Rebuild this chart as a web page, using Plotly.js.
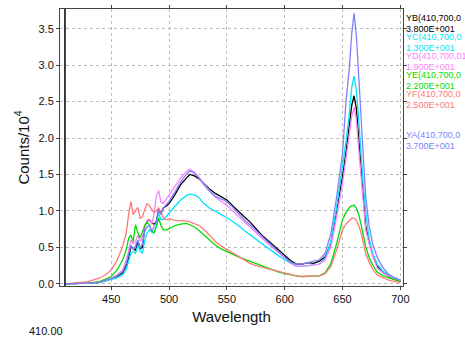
<!DOCTYPE html>
<html><head><meta charset="utf-8">
<script src="https://cdn.plot.ly/plotly-3.0.1.min.js"></script>
<style>html,body{margin:0;padding:0;background:#fff}#c{width:465px;height:340px}</style>
</head><body><div id="c"></div>
<script>
const wavelength = [410,420,430,440,445,450,455,460,463,465,467,469,471,473,475,477,479,481,483,485,487,489,491,493,495,498,500,505,510,515,518,522,526,530,535,540,545,550,555,560,565,570,575,580,585,590,595,600,605,610,615,620,625,630,635,640,645,650,653,656,658,660,662,664,666,668,670,673,676,680,685,690,695,700];

const YB = [0,0,0.01,0.02,0.04,0.07,0.1,0.15,0.25,0.35,0.51,0.48,0.46,0.58,0.48,0.5,0.79,0.86,0.88,0.83,0.82,0.85,1.02,0.96,1.04,1.07,1.1,1.22,1.36,1.45,1.5,1.48,1.44,1.38,1.3,1.24,1.19,1.15,1.07,0.99,0.92,0.85,0.76,0.67,0.6,0.53,0.46,0.4,0.32,0.27,0.27,0.29,0.28,0.31,0.37,0.56,1.01,1.47,1.8,2.15,2.45,2.58,2.4,2.0,1.55,1.15,0.79,0.58,0.4,0.24,0.16,0.1,0.06,0.03];
const YC = [0,0,0.01,0.02,0.04,0.06,0.08,0.12,0.2,0.31,0.42,0.44,0.42,0.53,0.45,0.42,0.6,0.7,0.74,0.71,0.7,0.78,0.97,0.88,0.88,0.93,0.97,1.06,1.15,1.21,1.23,1.22,1.18,1.1,1.04,0.99,0.95,0.91,0.86,0.8,0.73,0.67,0.61,0.56,0.5,0.44,0.38,0.33,0.28,0.24,0.24,0.25,0.25,0.27,0.35,0.58,1.06,1.61,1.95,2.35,2.7,2.85,2.65,2.25,1.75,1.35,1.0,0.62,0.42,0.27,0.17,0.12,0.08,0.05];
const YD = [0,0,0.01,0.03,0.05,0.08,0.12,0.19,0.33,0.44,0.6,0.55,0.58,0.67,0.58,0.65,0.79,0.87,0.88,0.82,0.95,1.2,1.28,1.12,1.1,1.17,1.22,1.33,1.45,1.54,1.57,1.53,1.46,1.38,1.28,1.19,1.13,1.08,1.0,0.92,0.85,0.78,0.7,0.63,0.56,0.49,0.42,0.35,0.29,0.24,0.24,0.25,0.26,0.27,0.33,0.51,0.92,1.38,1.72,2.05,2.3,2.42,2.25,1.85,1.45,1.05,0.75,0.55,0.38,0.22,0.15,0.1,0.06,0.04];
const YE = [0,0,0.01,0.03,0.06,0.1,0.19,0.33,0.47,0.62,0.67,0.58,0.81,0.7,0.63,0.72,0.8,0.84,0.81,0.72,0.7,0.79,0.9,0.8,0.74,0.74,0.76,0.8,0.82,0.83,0.81,0.78,0.73,0.67,0.6,0.53,0.48,0.44,0.4,0.37,0.34,0.31,0.27,0.24,0.21,0.18,0.16,0.14,0.12,0.11,0.1,0.1,0.1,0.11,0.15,0.28,0.56,0.88,0.98,1.05,1.07,1.08,1.04,0.95,0.82,0.66,0.51,0.36,0.26,0.16,0.11,0.08,0.05,0.03];
const YF = [0,0.01,0.03,0.08,0.12,0.19,0.32,0.52,0.7,0.95,1.13,0.95,1.0,1.05,0.9,0.92,1.02,1.1,1.07,1.03,0.98,1.0,1.04,0.98,0.9,0.88,0.89,0.87,0.87,0.86,0.85,0.83,0.8,0.75,0.66,0.58,0.52,0.47,0.42,0.37,0.32,0.28,0.25,0.23,0.2,0.18,0.16,0.15,0.13,0.11,0.1,0.1,0.1,0.11,0.14,0.24,0.47,0.74,0.82,0.87,0.9,0.9,0.87,0.8,0.7,0.56,0.42,0.3,0.2,0.12,0.08,0.05,0.03,0.02];
const YA = [0,0,0.01,0.02,0.04,0.07,0.11,0.17,0.28,0.4,0.53,0.47,0.52,0.6,0.49,0.55,0.72,0.78,0.8,0.72,0.78,0.85,1.01,0.95,1.04,1.09,1.13,1.26,1.4,1.5,1.55,1.52,1.45,1.36,1.27,1.2,1.16,1.13,1.05,0.96,0.88,0.81,0.73,0.65,0.58,0.51,0.44,0.37,0.29,0.27,0.27,0.29,0.31,0.33,0.42,0.69,1.2,1.79,2.5,2.98,3.44,3.71,3.4,2.8,2.3,1.75,1.2,0.8,0.55,0.36,0.22,0.13,0.08,0.05];

const seriesNames = ["YB","YC","YD","YE","YF","YA"];
const seriesData = [YB,YC,YD,YE,YF,YA];
const seriesColors = ["#000000","#00e5f5","#ff80ff","#00dd00","#ff7878","#8080ff"];
const legendLine1 = ["YB(410,700,0","YC(410,700,0","YD(410,700,01","YE(410,700,0","YF(410,700,0","YA(410,700,0"];
const legendLine2 = ["3.800E+001","1.300E+001","1.900E+001","2.200E+001","2.500E+001","3.700E+001"];
const legendY = [18,37,56,75,94,135];
const cursorX = 410;
const cursorLabel = "410.00";

const traces = seriesNames.map((n,i)=>({
  x: wavelength, y: seriesData[i], type:'scatter', mode:'lines', name:n,
  line:{color:seriesColors[i], width:1.3}
}));

const ann = [];
seriesNames.forEach((n,i)=>{
  ann.push({xref:'paper',yref:'paper',x:1.006,y:1-(legendY[i]-9)/277,xanchor:'left',yanchor:'middle',showarrow:false,borderpad:0,
    text:legendLine1[i],font:{family:'Arial',size:9,color:seriesColors[i]}});
  ann.push({xref:'paper',yref:'paper',x:1.006,y:1-(legendY[i]+11-9)/277,xanchor:'left',yanchor:'middle',showarrow:false,borderpad:0,
    text:legendLine2[i],font:{family:'Arial',size:9,color:seriesColors[i]}});
});
ann.push({xref:'paper',yref:'paper',x:-0.095,y:-(331-286)/277,xanchor:'left',yanchor:'middle',showarrow:false,
  text:cursorLabel,font:{family:'Arial',size:11,color:'#111'}});

const layout = {
  width:465, height:340,
  margin:{l:60,r:62,t:9,b:54},
  paper_bgcolor:'#fff', plot_bgcolor:'#fff',
  showlegend:false,
  font:{family:'Arial',color:'#111'},
  xaxis:{range:[405.7,702.3], tick0:450, dtick:50, showgrid:true, gridcolor:'#bbb', griddash:'dot', gridwidth:1,
    showline:true, linecolor:'#444', linewidth:1, mirror:'ticks', ticks:'outside', ticklen:3, tickcolor:'#444',
    zeroline:false, tickfont:{size:11,family:'Arial'},
    title:{text:'Wavelength', font:{size:15,family:'Arial'}, standoff:7}},
  yaxis:{range:[-0.03,3.77], tick0:0, dtick:0.5, tickformat:'.1f', showgrid:true, gridcolor:'#bbb', griddash:'dot', gridwidth:1,
    showline:true, linecolor:'#444', linewidth:1, mirror:'ticks', ticks:'outside', ticklen:3, tickcolor:'#444',
    zeroline:false, tickfont:{size:11,family:'Arial'},
    title:{text:'Counts/10<sup>4</sup>', font:{size:15,family:'Arial'}, standoff:5}},
  shapes:[{type:'line', xref:'x', yref:'paper', x0:cursorX, x1:cursorX, y0:0, y1:1, line:{color:'#000', width:1.5}}],
  annotations: ann
};
Plotly.newPlot('c', traces, layout, {staticPlot:true, displayModeBar:false});
</script></body></html>
